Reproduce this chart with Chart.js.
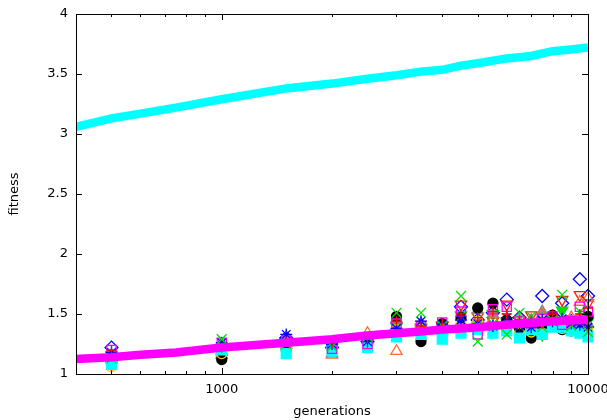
<!DOCTYPE html>
<html>
<head>
<meta charset="utf-8">
<script src="https://cdn.jsdelivr.net/npm/chart.js@4"></script>
<style>
  html, body { margin: 0; padding: 0; background: #fff; }
  canvas { display: block; }
</style>
</head>
<body>
<canvas id="ChartFitness" width="607" height="420"></canvas>
<script>
// generations at which the averaged curves were sampled
const lineGens = [400, 500, 600, 750, 1000, 1500, 2000, 2500, 3000, 3500, 4000, 4500, 5000, 6000, 7000, 8000, 9000, 10000];
const bestFitness = [3.06, 3.13, 3.17, 3.22, 3.29, 3.38, 3.42, 3.46, 3.49, 3.52, 3.535, 3.57, 3.59, 3.63, 3.65, 3.69, 3.705, 3.72];
const meanFitness = [1.125, 1.14, 1.16, 1.18, 1.22, 1.26, 1.29, 1.32, 1.34, 1.355, 1.37, 1.38, 1.39, 1.41, 1.425, 1.44, 1.445, 1.45];

// generations of the individual runs
const runGens = [500, 1000, 1500, 2000, 2500, 3000, 3500, 4000, 4500, 5000, 5500, 6000, 6500, 7000, 7500, 8000, 8500, 9000, 9500, 10000];
const run1 = [1.20, 1.22, 1.27, 1.26, 1.30, 1.44, 1.40, 1.42, 1.50, 1.47, 1.52, 1.50, 1.45, 1.44, 1.42, 1.50, 1.45, 1.44, 1.50, 1.55];
const run2 = [1.13, 1.29, 1.25, 1.23, 1.31, 1.51, 1.51, 1.40, 1.65, 1.27, 1.42, 1.33, 1.51, 1.48, 1.39, 1.45, 1.66, 1.40, 1.52, 1.35];
const run3 = [1.18, 1.26, 1.33, 1.25, 1.27, 1.38, 1.44, 1.41, 1.45, 1.42, 1.40, 1.47, 1.40, 1.39, 1.45, 1.44, 1.46, 1.42, 1.41, 1.39];
const run4 = [1.20, 1.26, 1.28, 1.21, 1.25, 1.42, 1.40, 1.43, 1.52, 1.33, 1.54, 1.56, 1.44, 1.42, 1.46, 1.48, 1.41, 1.44, 1.56, 1.52];
const run5 = [1.08, 1.20, 1.17, 1.19, 1.22, 1.31, 1.33, 1.29, 1.34, 1.37, 1.34, 1.36, 1.30, 1.37, 1.33, 1.39, 1.39, 1.36, 1.34, 1.31];
const run6 = [1.06, 1.17, 1.22, 1.20, 1.23, 1.37, 1.37, 1.35, 1.42, 1.44, 1.38, 1.40, 1.34, 1.35, 1.34, 1.43, 1.38, 1.42, 1.37, 1.36];
const run7 = [1.14, 1.12, 1.20, 1.25, 1.30, 1.48, 1.27, 1.42, 1.47, 1.55, 1.59, 1.45, 1.38, 1.30, 1.40, 1.49, 1.37, 1.36, 1.43, 1.48];
const run8 = [1.15, 1.18, 1.24, 1.16, 1.34, 1.19, 1.36, 1.38, 1.40, 1.44, 1.46, 1.46, 1.44, 1.40, 1.50, 1.42, 1.39, 1.47, 1.60, 1.63];
const run9 = [1.12, 1.16, 1.30, 1.17, 1.28, 1.46, 1.42, 1.36, 1.43, 1.53, 1.50, 1.42, 1.43, 1.45, 1.52, 1.44, 1.44, 1.41, 1.46, 1.42];
const run10 = [1.08, 1.19, 1.22, 1.24, 1.28, 1.40, 1.38, 1.40, 1.58, 1.48, 1.44, 1.58, 1.45, 1.49, 1.43, 1.47, 1.62, 1.44, 1.66, 1.59];
const run11 = [1.16, 1.14, 1.20, 1.22, 1.26, 1.39, 1.39, 1.41, 1.49, 1.40, 1.50, 1.43, 1.36, 1.33, 1.33, 1.46, 1.53, 1.46, 1.42, 1.44];
const run12 = [1.22, 1.24, 1.30, 1.22, 1.27, 1.36, 1.37, 1.38, 1.56, 1.45, 1.51, 1.62, 1.47, 1.43, 1.65, 1.41, 1.59, 1.44, 1.79, 1.65];

// axis ticks
const xTicks = [500, 600, 700, 800, 900, 1000, 2000, 3000, 4000, 5000, 6000, 7000, 8000, 9000, 10000];
const xMajor = [1000, 10000];
const yTicks = [1, 1.5, 2, 2.5, 3, 3.5, 4];

const FONT = { family: "'DejaVu Sans', sans-serif", size: 13 };

const toPoints = (xs, ys) => xs.map((x, i) => ({ x: x, y: ys[i] }));

const runDataset = (values, color, style, radius, filled, rotation) => ({
    data: toPoints(runGens, values),
    showLine: false,
    pointStyle: style,
    pointRadius: radius,
    pointRotation: rotation || 0,
    pointBorderColor: color,
    pointBackgroundColor: filled ? color : 'rgba(0,0,0,0)',
    pointBorderWidth: 1.3,
    clip: false,
    order: 2
});

const lineDataset = (values, color) => ({
    data: toPoints(lineGens, values),
    showLine: true,
    borderColor: color,
    borderWidth: 8.5,
    pointRadius: 0,
    tension: 0,
    clip: 0,
    order: 1
});

// inward tick marks on all four sides plus the frame
const framePlugin = {
    id: 'frame',
    afterDraw(chart) {
        const ctx = chart.ctx;
        const a = chart.chartArea;
        const xs = chart.scales.x;
        const ys = chart.scales.y;
        ctx.save();
        ctx.strokeStyle = '#000';
        ctx.lineWidth = 1;
        ctx.beginPath();
        xTicks.forEach(v => {
            const px = Math.round(xs.getPixelForValue(v)) + 0.5;
            const len = xMajor.includes(v) ? 6 : 3;
            ctx.moveTo(px, a.bottom);
            ctx.lineTo(px, a.bottom - len);
            ctx.moveTo(px, a.top);
            ctx.lineTo(px, a.top + len);
        });
        yTicks.forEach(v => {
            const py = Math.round(ys.getPixelForValue(v)) + 0.5;
            ctx.moveTo(a.left, py);
            ctx.lineTo(a.left + 6, py);
            ctx.moveTo(a.right, py);
            ctx.lineTo(a.right - 6, py);
        });
        ctx.stroke();
        ctx.strokeRect(a.left + 0.5, a.top + 0.5, a.right - a.left, a.bottom - a.top);
        ctx.restore();
    }
};

const canvas = document.getElementById('ChartFitness');
const ctx = canvas.getContext('2d');

const chartFitness = new Chart(ctx, {
    type: 'scatter',
    data: {
        datasets: [
            lineDataset(bestFitness, '#00ffff'),
            lineDataset(meanFitness, '#ff00ff'),
            runDataset(run1, '#ff0000', 'cross', 5, false),
            runDataset(run2, '#00dd00', 'crossRot', 7, false),
            runDataset(run3, '#0000ff', 'star', 6, false),
            runDataset(run4, '#ff00ff', 'rect', 6.5, false),
            runDataset(run5, '#00ffff', 'rect', 7, true),
            runDataset(run6, '#e8e000', 'circle', 5, false),
            runDataset(run7, '#000000', 'circle', 5, true),
            runDataset(run8, '#ff6a30', 'triangle', 6.5, false),
            runDataset(run9, '#888888', 'triangle', 6.5, true),
            runDataset(run10, '#ff1a00', 'triangle', 6.5, false, 180),
            runDataset(run11, '#00e000', 'triangle', 6.5, true, 180),
            runDataset(run12, '#0000ff', 'rectRot', 6.5, false)
        ]
    },
    options: {
        responsive: false,
        animation: false,
        devicePixelRatio: 1,
        layout: { padding: { top: 14, right: 19, left: 0, bottom: 0 } },
        plugins: {
            legend: { display: false },
            tooltip: { enabled: false }
        },
        scales: {
            x: {
                type: 'logarithmic',
                min: 400,
                max: 10000,
                grid: { display: false, drawTicks: false },
                border: { display: false },
                title: {
                    display: true,
                    text: 'generations',
                    color: '#000',
                    font: FONT,
                    padding: { top: 0, bottom: 1 }
                },
                ticks: {
                    autoSkip: false,
                    maxRotation: 0,
                    padding: 8,
                    color: '#000',
                    font: FONT,
                    callback: v => xMajor.includes(v) ? String(v) : ''
                },
                afterBuildTicks: scale => {
                    scale.ticks = xTicks.map(v => ({ value: v }));
                },
                afterFit: scale => {
                    scale.height = 46;
                    scale.paddingLeft = 0;
                    scale.paddingRight = 0;
                }
            },
            y: {
                min: 1,
                max: 4,
                grid: { display: false, drawTicks: false },
                border: { display: false },
                title: {
                    display: true,
                    text: 'fitness',
                    color: '#000',
                    font: FONT,
                    padding: { top: 7, bottom: 0 }
                },
                ticks: {
                    stepSize: 0.5,
                    padding: 8,
                    color: '#000',
                    font: FONT,
                    callback: v => String(Number(v.toFixed(1)))
                },
                afterFit: scale => {
                    scale.width = 76;
                    scale.paddingTop = 0;
                    scale.paddingBottom = 0;
                }
            }
        }
    },
    plugins: [framePlugin]
});
</script>
</body>
</html>
